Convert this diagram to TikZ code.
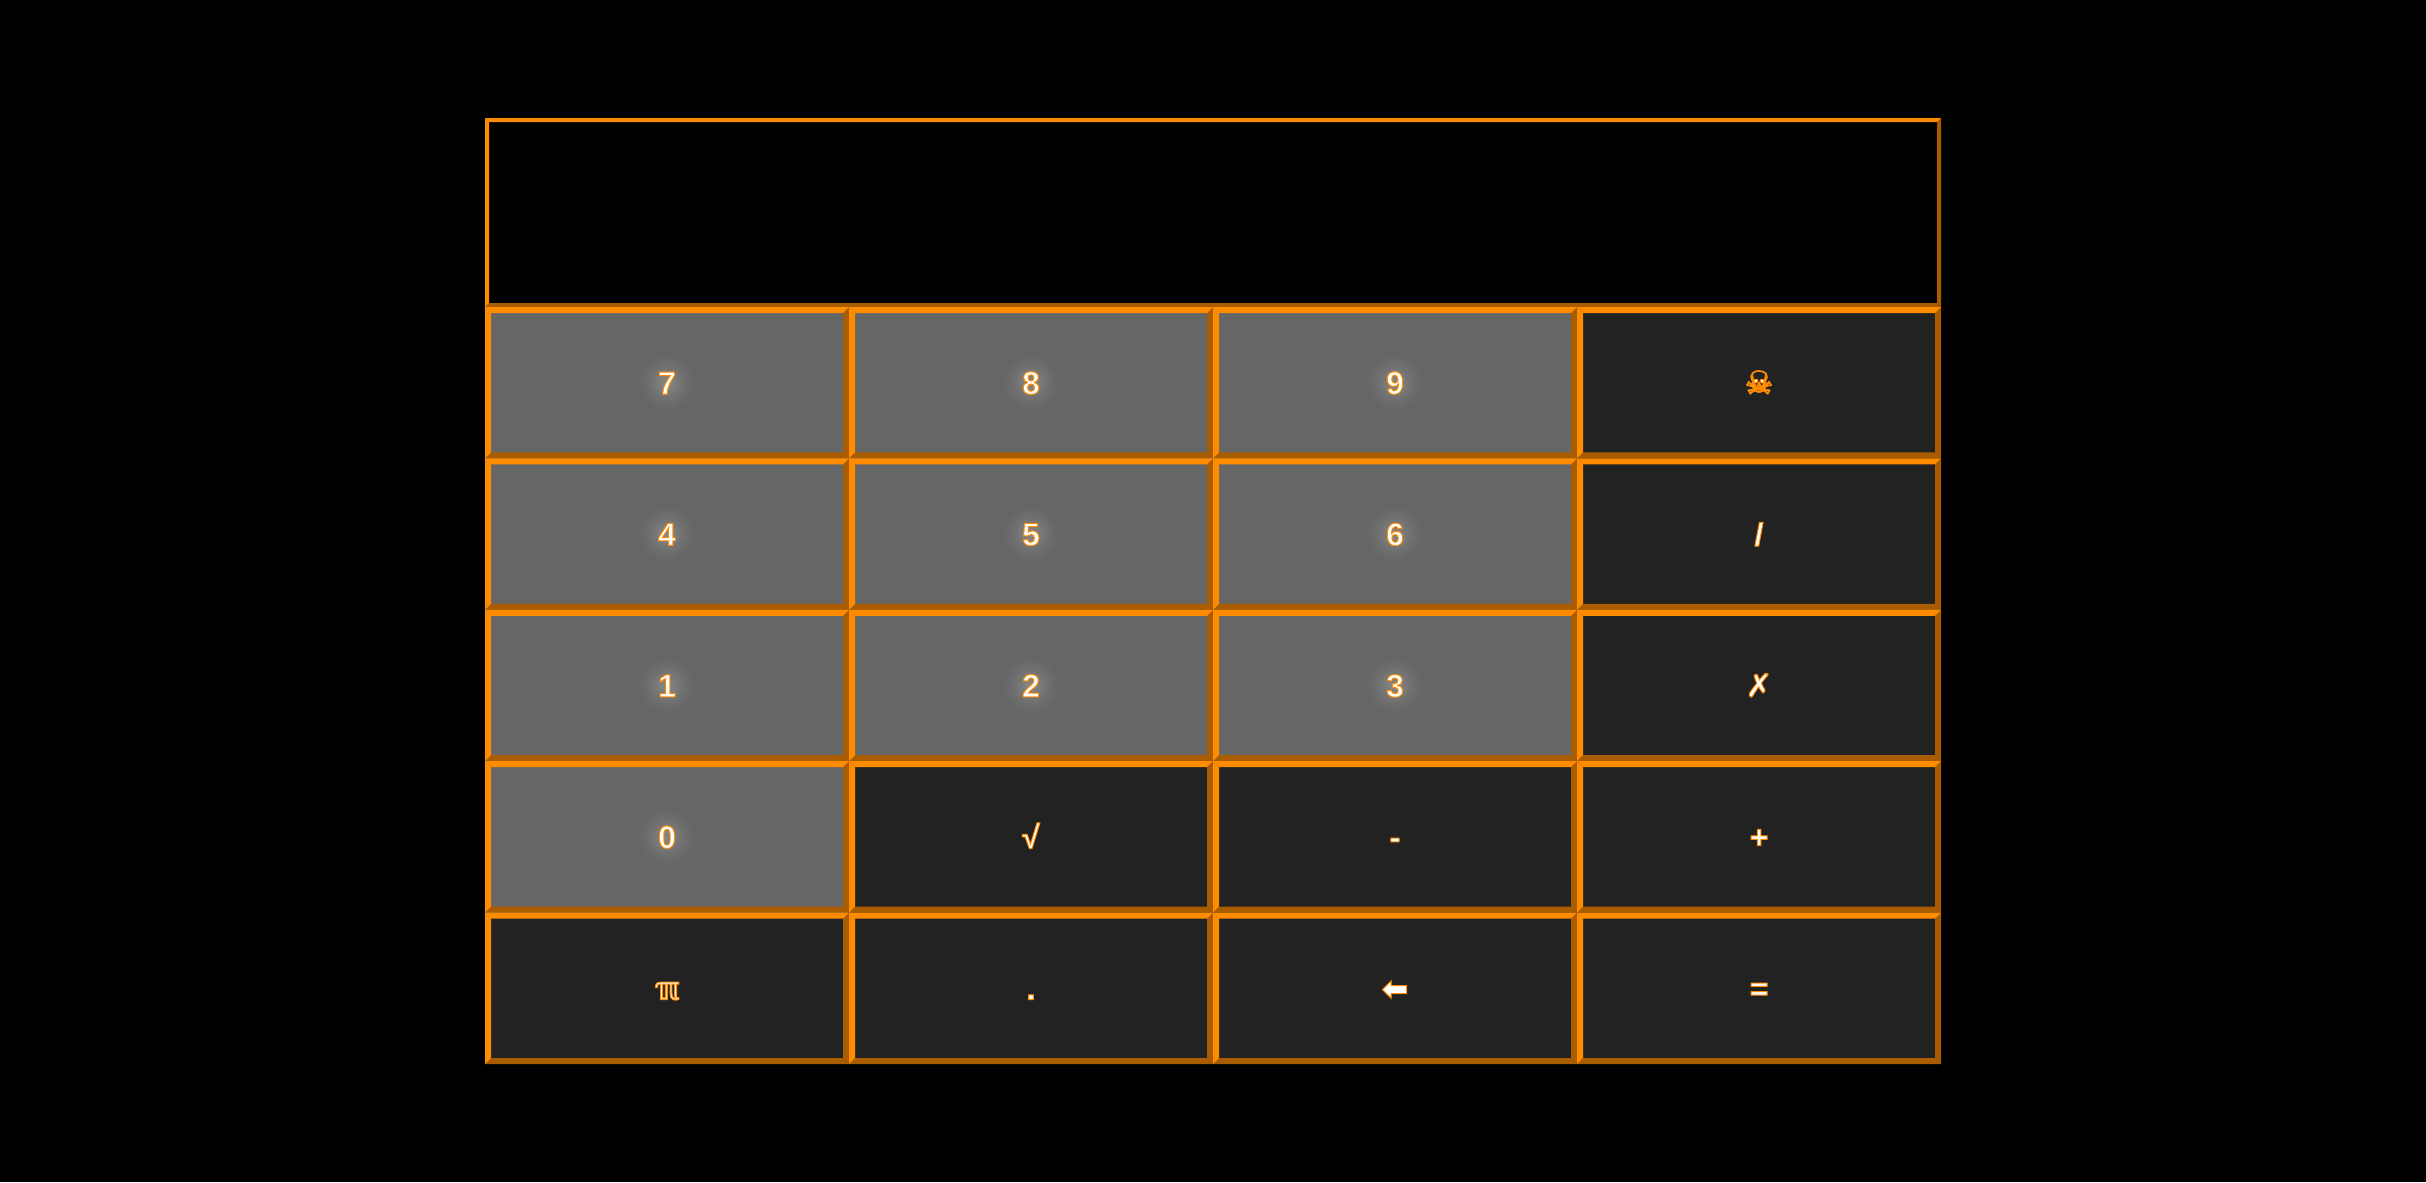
\documentclass[tikz,border=0pt]{standalone}
\usepackage{fontspec}
\setmainfont{Liberation Sans}
\newfontfamily\keysym{DejaVu Sans}
\usepackage{tikz}
\definecolor{keylight}{HTML}{FF8C00}
\definecolor{keyshade}{HTML}{AA5D00}
\definecolor{keygray}{HTML}{666666}
\definecolor{keydark}{HTML}{222222}
% left and top lit, right and bottom in shade, corners mitred
\newcommand{\bevelframe}[1]{%
\coordinate (nw) at (path picture bounding box.north west);
\coordinate (ne) at (path picture bounding box.north east);
\coordinate (sw) at (path picture bounding box.south west);
\coordinate (se) at (path picture bounding box.south east);
\fill[keyshade] (ne) -- (se) -- ([shift={(-#1,#1)}]se) -- ([shift={(-#1,-#1)}]ne) -- cycle;
\fill[keyshade] (sw) -- (se) -- ([shift={(-#1,#1)}]se) -- ([shift={(#1,#1)}]sw) -- cycle;
\fill[keylight] (nw) -- (ne) -- ([shift={(-#1,-#1)}]ne) -- ([shift={(#1,-#1)}]nw) -- cycle;
\fill[keylight] (nw) -- (sw) -- ([shift={(#1,#1)}]sw) -- ([shift={(#1,-#1)}]nw) -- cycle;}
\tikzstyle{key}=[inner sep=0pt,outer sep=0pt,minimum width=273pt,minimum height=113.55pt,text height=17pt,text depth=0pt,font=\fontsize{24}{28}\selectfont\bfseries,execute at begin node={\special{pdf:bcolor [1 1 1] [1 0.549 0]}\special{pdf:code 2 Tr 0.75 w}},execute at end node={\special{pdf:code 0 Tr}\special{pdf:ecolor}}]
\tikzstyle{numkey}=[key,fill=keygray,path picture={\foreach \r in {1,2,...,12,13.5,15,16.5,18,20} \fill[white,opacity=.014] (path picture bounding box.center) circle (\r pt); \bevelframe{4.5pt}}]
\tikzstyle{opkey}=[key,fill=keydark,path picture={\bevelframe{4.5pt}}]
\tikzstyle{screen}=[inner sep=0pt,outer sep=0pt,minimum width=1092pt,minimum height=141.75pt,fill=black,path picture={\bevelframe{3pt}}]

\begin{document}
\begin{tikzpicture}[x=.75pt,y=-.75pt]
\fill[black] (0,0) rectangle (2426,1182);
\node[screen] (display) at (1213,212.5) {};
\node[numkey] (key7) at (667,382.7) {7};
\node[numkey] (key8) at (1031,382.7) {8};
\node[numkey] (key9) at (1395,382.7) {9};
\node[opkey] (keyclear) at (1759,382.7) {\keysym ☠};
\node[numkey] (key4) at (667,534.1) {4};
\node[numkey] (key5) at (1031,534.1) {5};
\node[numkey] (key6) at (1395,534.1) {6};
\node[opkey] (keydiv) at (1759,534.1) {/};
\node[numkey] (key1) at (667,685.5) {1};
\node[numkey] (key2) at (1031,685.5) {2};
\node[numkey] (key3) at (1395,685.5) {3};
\node[opkey] (keymul) at (1759,685.5) {\keysym ✗};
\node[numkey] (key0) at (667,836.9) {0};
\node[opkey] (keysqrt) at (1031,836.9) {√};
\node[opkey] (keyminus) at (1395,836.9) {-};
\node[opkey] (keyplus) at (1759,836.9) {+};
\node[opkey] (keypi) at (667,988.3) {\keysym ℼ};
\node[opkey] (keydot) at (1031,988.3) {.};
\node[opkey] (keyback) at (1395,988.3) {\keysym ⬅};
\node[opkey] (keyequal) at (1759,988.3) {=};
\end{tikzpicture}
\end{document}
